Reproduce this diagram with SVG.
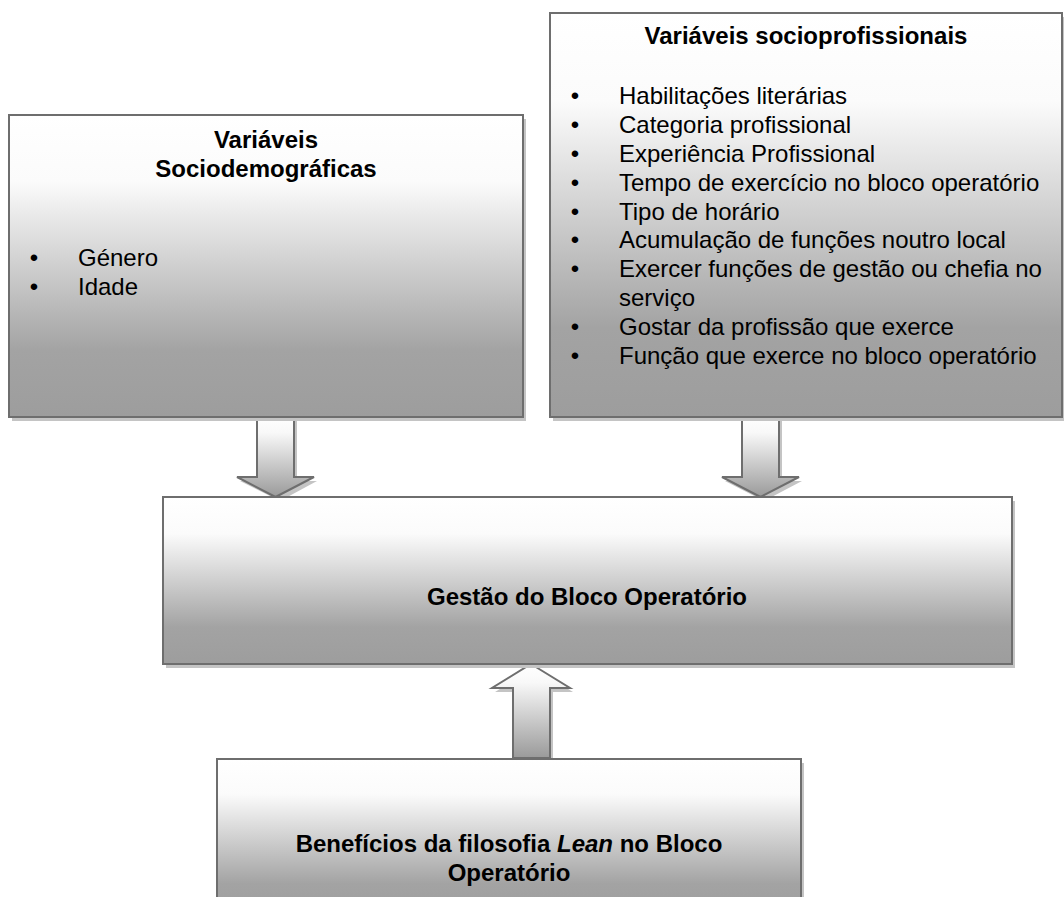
<svg xmlns="http://www.w3.org/2000/svg" width="1064" height="897" viewBox="0 0 1064 897">
<defs>
<linearGradient id="gBox" x1="0" y1="0" x2="0" y2="1">
<stop offset="0" stop-color="#ffffff"/>
<stop offset="0.22" stop-color="#fbfbfb"/>
<stop offset="0.78" stop-color="#a3a3a3"/>
<stop offset="1" stop-color="#9d9d9d"/>
</linearGradient>
<linearGradient id="gArrow" x1="0" y1="0" x2="0" y2="1">
<stop offset="0" stop-color="#ffffff"/>
<stop offset="0.2" stop-color="#f8f8f8"/>
<stop offset="1" stop-color="#9a9a9a"/>
</linearGradient>
<style>
.box{fill:url(#gBox);stroke:#6e6e6e;stroke-width:2}
.shadow{fill:#c4c4c4}
.arrow{fill:url(#gArrow);stroke:#6e6e6e;stroke-width:2;stroke-linejoin:miter}
.t{font-family:"Liberation Sans",Arial,sans-serif;font-size:24px;fill:#000}
.b{font-weight:bold}
.c{text-anchor:middle}
</style>
</defs>
<rect width="1064" height="897" fill="#ffffff"/>

<g id="connectors">
<polygon class="shadow" points="260,421 297,421 297,481 317,481 280,501 240,481 260,481"/>
<polygon class="arrow" points="257,417 294,417 294,477 314,477 275.5,497 237,477 257,477"/>
<polygon class="shadow" points="745,421 782,421 782,481 802,481 764,501 725,481 745,481"/>
<polygon class="arrow" points="742,417 779,417 779,477 799,477 760.5,497 722,477 742,477"/>
<polygon class="shadow" points="534,668 573,692 553,692 553,762 516,762 516,692 495,692"/>
<polygon class="arrow" points="531,664 570,688 550,688 550,758 513,758 513,688 492,688"/>
</g>

<g id="node-sociodemograficas">
<rect class="shadow" x="12" y="119" width="514" height="302"/>
<rect class="box" x="9" y="115" width="514" height="302"/>
<text class="t b c" x="266" y="148">Variáveis</text>
<text class="t b c" x="266" y="177">Sociodemográficas</text>
<text class="t c" x="34" y="266">•</text>
<text class="t" x="78" y="266">Género</text>
<text class="t c" x="34" y="295">•</text>
<text class="t" x="78" y="295">Idade</text>
</g>

<g id="node-socioprofissionais">
<rect class="shadow" x="553" y="17" width="512" height="404"/>
<rect class="box" x="550" y="13" width="512" height="404"/>
<text class="t b c" x="806" y="44">Variáveis socioprofissionais</text>
<g class="t">
<text class="c" x="575" y="104">•</text><text x="619" y="104">Habilitações literárias</text>
<text class="c" x="575" y="133">•</text><text x="619" y="133">Categoria profissional</text>
<text class="c" x="575" y="162">•</text><text x="619" y="162">Experiência Profissional</text>
<text class="c" x="575" y="191">•</text><text x="619" y="191">Tempo de exercício no bloco operatório</text>
<text class="c" x="575" y="220">•</text><text x="619" y="220">Tipo de horário</text>
<text class="c" x="575" y="248">•</text><text x="619" y="248">Acumulação de funções noutro local</text>
<text class="c" x="575" y="277">•</text><text x="619" y="277">Exercer funções de gestão ou chefia no</text>
<text x="619" y="306">serviço</text>
<text class="c" x="575" y="335">•</text><text x="619" y="335">Gostar da profissão que exerce</text>
<text class="c" x="575" y="364">•</text><text x="619" y="364">Função que exerce no bloco operatório</text>
</g>
</g>

<g id="node-gestao">
<rect class="shadow" x="166" y="501" width="849" height="167"/>
<rect class="box" x="163" y="497" width="849" height="167"/>
<text class="t b c" x="587" y="605">Gestão do Bloco Operatório</text>
</g>

<g id="node-beneficios">
<rect class="shadow" x="220" y="763" width="584" height="160"/>
<rect class="box" x="217" y="759" width="584" height="160"/>
<text class="t b c" x="509" y="852">Benefícios da filosofia <tspan font-style="italic">Lean</tspan> no Bloco</text>
<text class="t b c" x="509" y="881">Operatório</text>
</g>
</svg>
